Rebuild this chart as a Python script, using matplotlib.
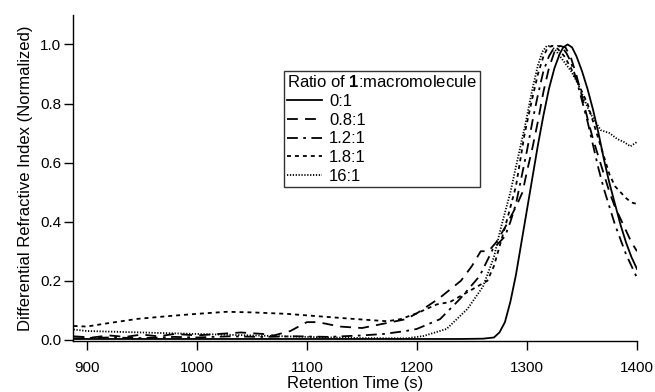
import matplotlib
matplotlib.use("Agg")
import matplotlib.pyplot as plt

plt.rcParams['font.family'] = ['Liberation Sans', 'DejaVu Sans']
plt.rcParams['mathtext.fontset'] = 'custom'
plt.rcParams['mathtext.bf'] = 'Liberation Sans:bold'
plt.rcParams['mathtext.rm'] = 'Liberation Sans'

# ---- data ----
labels = ["0:1", "0.8:1", "1.2:1", "1.8:1", "16:1"]
legend_title = r"Ratio of $\mathbf{1}$:macromolecule"

t_solid = [888, 950, 1000, 1050, 1100, 1150, 1200, 1240, 1260, 1270, 1275, 1280, 1285, 1290, 1295,
           1300, 1305, 1310, 1315, 1320, 1325, 1330, 1333, 1337, 1341, 1345, 1350, 1355, 1360, 1365,
           1370, 1375, 1380, 1385, 1390, 1395, 1400]
y_solid = [0.003, 0.003, 0.003, 0.003, 0.003, 0.003, 0.003, 0.003, 0.004, 0.008, 0.025, 0.06, 0.13,
           0.22, 0.33, 0.44, 0.55, 0.66, 0.76, 0.85, 0.92, 0.97, 0.99, 1.0, 0.99, 0.96, 0.91, 0.85,
           0.78, 0.70, 0.61, 0.53, 0.46, 0.39, 0.33, 0.28, 0.24]

t_dash = [888, 905, 920, 935, 950, 965, 980, 1000, 1020, 1040, 1060, 1070, 1085, 1100, 1110, 1130,
          1150, 1170, 1190, 1200, 1220, 1240, 1250, 1258, 1265, 1272, 1280, 1290, 1296, 1300, 1305,
          1310, 1315, 1320, 1325, 1330, 1335, 1340, 1345, 1350, 1355, 1360, 1365, 1370, 1375, 1380,
          1385, 1390, 1395, 1400]
y_dash = [0.012, 0.008, 0.015, 0.01, 0.018, 0.012, 0.02, 0.015, 0.02, 0.025, 0.02, 0.015, 0.03, 0.06,
          0.06, 0.045, 0.04, 0.055, 0.07, 0.09, 0.14, 0.20, 0.25, 0.30, 0.30, 0.33, 0.38, 0.45, 0.50,
          0.57, 0.65, 0.74, 0.84, 0.92, 0.975, 0.995, 0.99, 0.955, 0.895, 0.825, 0.75, 0.68, 0.62,
          0.56, 0.50, 0.45, 0.41, 0.37, 0.33, 0.30]

t_dashdot = [888, 920, 950, 980, 1000, 1030, 1060, 1090, 1120, 1150, 1170, 1190, 1200, 1221, 1239,
             1257, 1269, 1280, 1285, 1290, 1295, 1300, 1305, 1310, 1315, 1320, 1324, 1328, 1332,
             1336, 1340, 1345, 1350, 1355, 1360, 1365, 1370, 1375, 1380, 1385, 1390, 1395, 1400]
y_dashdot = [0.005, 0.008, 0.006, 0.01, 0.008, 0.012, 0.01, 0.012, 0.01, 0.015, 0.02, 0.03, 0.037,
             0.07, 0.138, 0.216, 0.307, 0.35, 0.40, 0.46, 0.55, 0.64, 0.74, 0.83, 0.91, 0.96, 0.985,
             0.995, 0.99, 0.97, 0.94, 0.88, 0.81, 0.74, 0.66, 0.58, 0.51, 0.45, 0.39, 0.34, 0.29,
             0.25, 0.21]

t_short = [888, 900, 915, 946, 976, 1000, 1027, 1050, 1082, 1110, 1142, 1173, 1185, 1200, 1218,
           1230, 1248, 1264, 1270, 1280, 1285, 1290, 1298, 1305, 1310, 1315, 1319, 1323, 1328,
           1334, 1340, 1350, 1355, 1360, 1365, 1370, 1375, 1380, 1385, 1390, 1395, 1400]
y_short = [0.047, 0.045, 0.054, 0.071, 0.081, 0.088, 0.095, 0.093, 0.088, 0.08, 0.071, 0.063, 0.07,
           0.09, 0.12, 0.128, 0.166, 0.20, 0.25, 0.38, 0.45, 0.52, 0.70, 0.82, 0.90, 0.96, 0.99,
           0.995, 0.985, 0.96, 0.92, 0.84, 0.80, 0.74, 0.68, 0.62, 0.56, 0.52, 0.50, 0.48, 0.465,
           0.46]

t_fine = [888, 900, 920, 950, 1000, 1050, 1100, 1150, 1190, 1206, 1227, 1246, 1260, 1270, 1276,
          1285, 1292, 1298, 1305, 1310, 1314, 1318, 1322, 1326, 1330, 1340, 1346, 1357, 1367, 1375,
          1382, 1388, 1394, 1400]
y_fine = [0.035, 0.03, 0.028, 0.025, 0.02, 0.015, 0.01, 0.006, 0.005, 0.013, 0.037, 0.105, 0.18,
          0.28, 0.375, 0.50, 0.62, 0.72, 0.85, 0.93, 0.975, 0.995, 0.995, 0.98, 0.96, 0.91, 0.87,
          0.77, 0.71, 0.70, 0.68, 0.67, 0.655, 0.67]

xticks = [900, 1000, 1100, 1200, 1300, 1400]
yticks = [0.0, 0.2, 0.4, 0.6, 0.8, 1.0]

# ---- figure ----
fig = plt.figure(figsize=(6.55, 3.92), dpi=100)
ax = fig.add_axes([0.1115, 0.130, 0.861, 0.832])

series = [
    (t_solid, y_solid, dict(linestyle='-')),
    (t_dash, y_dash, dict(linestyle=(0, (6, 4)))),
    (t_dashdot, y_dashdot, dict(linestyle=(0, (6, 3, 1.5, 3)))),
    (t_short, y_short, dict(linestyle=(0, (2.2, 2.2)))),
    (t_fine, y_fine, dict(linestyle=(0, (0.7, 0.9)))),
]
for (tx, ty, st), lab in zip(series, labels):
    ax.plot(tx, ty, color='black', linewidth=1.3, label=lab, **st)

ax.set_xlim(887.5, 1400)
ax.set_ylim(-0.004, 1.10)
ax.set_xticks(xticks)
ax.set_xticklabels([str(v) for v in xticks])
ax.set_yticks(yticks)
ax.set_yticklabels([f"{v:.1f}" for v in yticks])
for s in ['top', 'right']:
    ax.spines[s].set_visible(False)
for s in ['left', 'bottom']:
    ax.spines[s].set_linewidth(1.0)
ax.tick_params(direction='out', length=6.5, width=1.0, labelsize=11)
ax.tick_params(axis='x', pad=8)
ax.tick_params(axis='y', pad=2)

ax.set_xlabel("Retention Time (s)", fontsize=12, labelpad=0.5)
ax.set_ylabel("Differential Refractive Index (Normalized)", fontsize=12, labelpad=5)

leg = ax.legend(title=legend_title, loc='upper left', bbox_to_anchor=(284 / 655, 1 - 71 / 392),
                bbox_transform=fig.transFigure, fontsize=12, title_fontsize=12,
                frameon=True, fancybox=False, borderaxespad=0, borderpad=0.2,
                labelspacing=0.22, handlelength=2.1, handletextpad=0.4, alignment='left')
leg.get_frame().set_edgecolor('black')
leg.get_frame().set_linewidth(1.0)

fig.savefig("out.png", dpi=100)
